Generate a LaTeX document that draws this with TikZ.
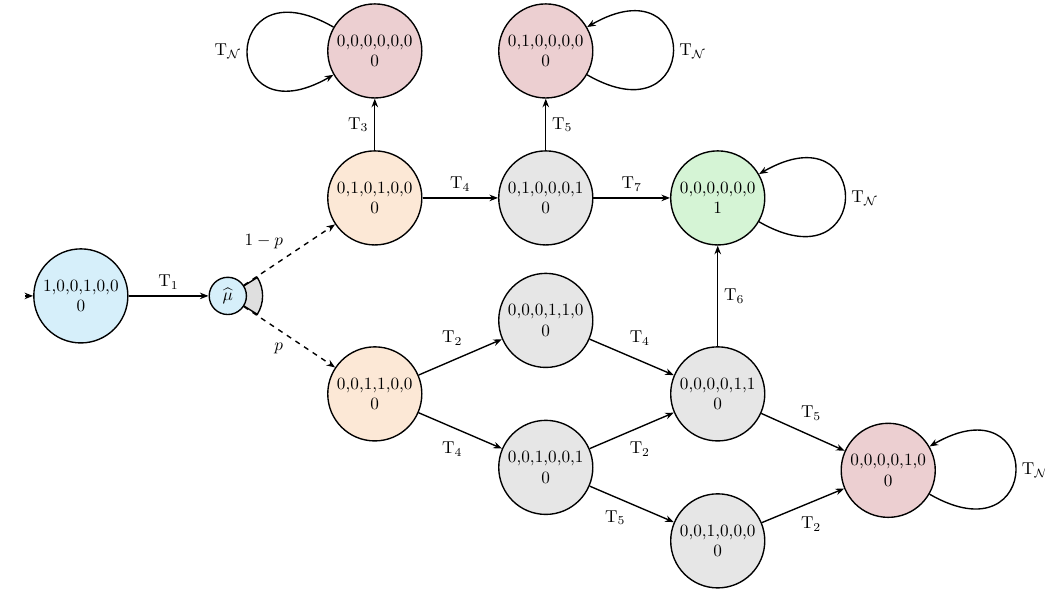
\documentclass[tikz,border=0pt]{standalone}
\usetikzlibrary{arrows.meta}

\definecolor{stblue}{RGB}{214,239,250}
\definecolor{storange}{RGB}{252,232,214}
\definecolor{stgray}{RGB}{230,230,230}
\definecolor{stred}{RGB}{236,207,209}
\definecolor{stgreen}{RGB}{213,244,213}

\tikzset{
  state/.style={circle, draw, thick, minimum size=1.92cm, inner sep=0pt, align=center},
  choice/.style={circle, draw, thick, fill=stblue, minimum size=0.76cm, inner sep=0pt},
  trans/.style={->, thick},
  ptrans/.style={->, thick, dashed}
}

\newcommand{\Tn}[1]{$\mathrm{T}_{#1}$}

\begin{document}
\begin{tikzpicture}[>={Stealth[length=5pt,width=3.8pt]}]
  \useasboundingbox (0,0) rectangle (21.33,12.12);

  % initial marking and probabilistic choice
  \coordinate (start) at (0.51,6.08);
  \node[state, fill=stblue] (init) at (1.65,6.08) {1,0,0,1,0,0\\0};
  \draw[thick, fill=gray!25] (4.65,6.08) -- ++(32:0.71) arc[start angle=32, end angle=-32, radius=0.71] -- cycle;
  \node[choice] (mu) at (4.65,6.08) {$\widehat{\mu}$};

  % states
  \node[state, fill=storange] (s0101) at (7.65,8.08) {0,1,0,1,0,0\\0};
  \node[state, fill=storange] (s0011) at (7.65,4.08) {0,0,1,1,0,0\\0};
  \node[state, fill=stred] (sdead) at (7.65,11.08) {0,0,0,0,0,0\\0};
  \node[state, fill=stgray] (s0100) at (11.14,8.08) {0,1,0,0,0,1\\0};
  \node[state, fill=stred] (s0100b) at (11.14,11.08) {0,1,0,0,0,0\\0};
  \node[state, fill=stgreen] (sgoal) at (14.65,8.08) {0,0,0,0,0,0\\1};
  \node[state, fill=stgray] (s0001) at (11.14,5.58) {0,0,0,1,1,0\\0};
  \node[state, fill=stgray] (s0010) at (11.14,2.58) {0,0,1,0,0,1\\0};
  \node[state, fill=stgray] (s0000) at (14.65,4.08) {0,0,0,0,1,1\\0};
  \node[state, fill=stgray] (s0010b) at (14.65,1.08) {0,0,1,0,0,0\\0};
  \node[state, fill=stred] (s0000b) at (18.13,2.52) {0,0,0,0,1,0\\0};

  % transitions
  \draw[trans] (start) -- (init);
  \draw[trans] (init) -- node[above] {\Tn{1}} (mu);
  \draw[ptrans] (mu) -- node[above left] {$1-p$} (s0101);
  \draw[ptrans] (mu) -- node[below left] {$p$} (s0011);
  \draw[trans] (s0101) -- node[left] {\Tn{3}} (sdead);
  \draw[trans] (s0101) -- node[above] {\Tn{4}} (s0100);
  \draw[trans] (s0100) -- node[right] {\Tn{5}} (s0100b);
  \draw[trans] (s0100) -- node[above] {\Tn{7}} (sgoal);
  \draw[trans] (s0011) -- node[above=3pt, xshift=-4.7pt] {\Tn{2}} (s0001);
  \draw[trans] (s0011) -- node[below=3pt, xshift=-4.7pt] {\Tn{4}} (s0010);
  \draw[trans] (s0001) -- node[above=3pt, xshift=4.7pt] {\Tn{4}} (s0000);
  \draw[trans] (s0010) -- node[below=3pt, xshift=4.7pt] {\Tn{2}} (s0000);
  \draw[trans] (s0010) -- node[below left] {\Tn{5}} (s0010b);
  \draw[trans] (s0000) -- node[right] {\Tn{6}} (sgoal);
  \draw[trans] (s0000) -- node[above=3pt, xshift=4.7pt] {\Tn{5}} (s0000b);
  \draw[trans] (s0010b) -- node[below=3pt, xshift=4.7pt] {\Tn{2}} (s0000b);

  % self loops
  \draw[trans] (sdead) to[out=150, in=210, distance=2.7cm] node[left] {\Tn{\mathcal{N}}} (sdead);
  \draw[trans] (s0100b) to[out=-30, in=30, distance=2.7cm] node[right] {\Tn{\mathcal{N}}} (s0100b);
  \draw[trans] (sgoal) to[out=-30, in=30, distance=2.7cm] node[right] {\Tn{\mathcal{N}}} (sgoal);
  \draw[trans] (s0000b) to[out=-30, in=30, distance=2.7cm] node[right] {\Tn{\mathcal{N}}} (s0000b);
\end{tikzpicture}
\end{document}
